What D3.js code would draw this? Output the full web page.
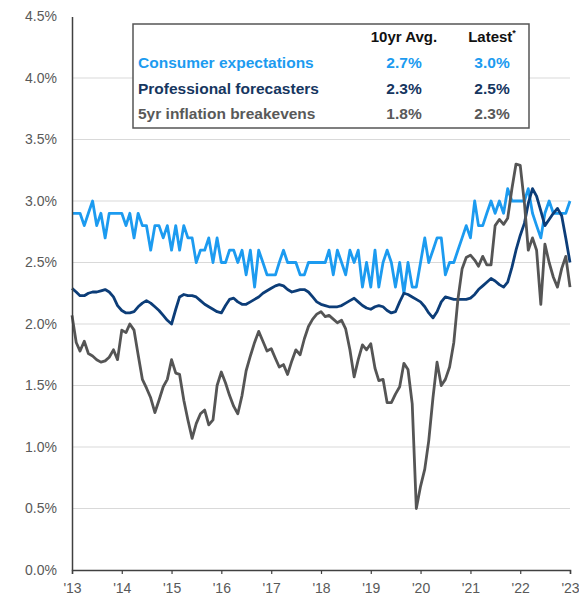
<!DOCTYPE html>
<html>
<head>
<meta charset="utf-8">
<script src="https://cdn.jsdelivr.net/npm/d3@7"></script>
<style>
  html, body { margin: 0; padding: 0; background: #fff; }
  svg { display: block; }
  text { font-family: "Liberation Sans", Arial, sans-serif; }
</style>
</head>
<body>
<svg id="chart" width="579" height="599"></svg>
<script>
// ---- Data (monthly, Jan 2013 .. Jan 2023) ----
const startDate = new Date(2013, 0, 1);

const consumer = [
  2.9,2.9,2.9,2.8,2.9,3.0,2.8,2.9,2.7,2.9,
  2.9,2.9,2.9,2.8,2.9,2.7,2.9,2.8,2.8,2.6,
  2.8,2.8,2.7,2.8,2.6,2.8,2.6,2.8,2.7,2.7,
  2.5,2.6,2.6,2.7,2.5,2.7,2.5,2.5,2.6,2.6,
  2.5,2.6,2.4,2.6,2.3,2.6,2.5,2.4,2.4,2.4,
  2.5,2.6,2.5,2.5,2.5,2.4,2.4,2.5,2.5,2.5,
  2.5,2.5,2.6,2.4,2.6,2.5,2.4,2.6,2.5,2.6,
  2.3,2.5,2.3,2.6,2.3,2.5,2.6,2.5,2.3,2.5,
  2.25,2.5,2.3,2.3,2.5,2.7,2.5,2.6,2.7,2.7,
  2.4,2.5,2.5,2.6,2.7,2.8,2.7,3.0,2.8,2.8,
  2.9,3.0,2.9,3.0,2.9,3.1,3.0,3.0,3.0,3.0,
  3.1,2.9,2.8,2.7,2.9,3.0,2.9,2.9,2.9,2.9,
  3.0
];

const professional = [
  2.29,2.26,2.23,2.23,2.25,2.26,2.26,2.27,2.28,2.26,
  2.22,2.15,2.11,2.09,2.09,2.10,2.14,2.17,2.19,2.17,
  2.14,2.11,2.07,2.03,2.00,2.12,2.22,2.24,2.23,2.23,
  2.22,2.19,2.16,2.14,2.12,2.10,2.09,2.15,2.20,2.21,
  2.18,2.16,2.16,2.18,2.20,2.22,2.25,2.27,2.29,2.31,
  2.32,2.31,2.28,2.26,2.27,2.28,2.28,2.26,2.22,2.18,
  2.16,2.15,2.14,2.14,2.14,2.15,2.17,2.19,2.21,2.18,
  2.15,2.13,2.12,2.14,2.15,2.14,2.11,2.09,2.10,2.18,
  2.25,2.24,2.22,2.20,2.18,2.14,2.09,2.05,2.10,2.18,
  2.22,2.21,2.20,2.20,2.20,2.20,2.21,2.24,2.28,2.31,
  2.34,2.37,2.35,2.32,2.30,2.34,2.46,2.60,2.72,2.82,
  2.98,3.10,3.04,2.92,2.80,2.85,2.90,2.94,2.88,2.70,
  2.50
];

const breakevens = [
  2.07,1.85,1.78,1.86,1.76,1.74,1.71,1.69,1.70,1.73,
  1.79,1.71,1.95,1.93,2.00,1.95,1.75,1.55,1.48,1.40,
  1.28,1.38,1.49,1.55,1.71,1.60,1.59,1.38,1.22,1.07,
  1.19,1.27,1.30,1.18,1.22,1.50,1.61,1.52,1.42,1.33,
  1.27,1.42,1.62,1.74,1.85,1.94,1.86,1.78,1.80,1.72,
  1.65,1.67,1.59,1.70,1.79,1.75,1.88,1.98,2.04,2.08,
  2.10,2.06,2.07,2.04,2.01,2.03,1.96,1.79,1.57,1.71,
  1.83,1.79,1.84,1.64,1.54,1.55,1.36,1.36,1.43,1.49,
  1.68,1.63,1.35,0.50,0.68,0.82,1.05,1.40,1.69,1.50,
  1.55,1.65,1.85,2.20,2.45,2.54,2.56,2.52,2.47,2.55,
  2.48,2.48,2.80,2.85,2.81,2.86,3.10,3.30,3.29,2.98,
  2.60,2.70,2.60,2.16,2.65,2.50,2.38,2.30,2.45,2.55,
  2.30
];

const yTicks = [0, 0.5, 1.0, 1.5, 2.0, 2.5, 3.0, 3.5, 4.0, 4.5];
const xTickYears = [2013,2014,2015,2016,2017,2018,2019,2020,2021,2022,2023];

const seriesNames = ["Consumer expectations", "Professional forecasters", "5yr inflation breakevens"];
const tenYrAvg = ["2.7%", "2.3%", "1.8%"];
const latest = ["3.0%", "2.5%", "2.3%"];
const seriesColors = ["#1c9bf0", "#0c3d78", "#555555"];
const textColors = ["#1c9bf0", "#16365f", "#595959"];

// ---- Chart ----
const svg = d3.select("#chart");
const x = d3.scaleTime()
  .domain([new Date(2013, 0, 1), new Date(2023, 0, 1)])
  .range([72, 570]);
const y = d3.scaleLinear().domain([0, 4.5]).range([570, 16.5]);

const dateOf = i => d3.timeMonth.offset(startDate, i);

// gridlines
svg.append("g").selectAll("line")
  .data(yTicks.filter(v => v > 0 && v < 4.5))
  .join("line")
  .attr("x1", 72).attr("x2", 570)
  .attr("y1", d => y(d)).attr("y2", d => y(d))
  .attr("stroke", "#d9d9d9").attr("stroke-width", 1);

// lines
const line = d3.line()
  .x((d, i) => x(dateOf(i)))
  .y(d => y(d));

[consumer, professional, breakevens].forEach((s, k) => {
  svg.append("path")
    .datum(s)
    .attr("fill", "none")
    .attr("stroke", seriesColors[k])
    .attr("stroke-width", 2.8)
    .attr("stroke-linejoin", "round")
    .attr("d", line);
});

// y axis
const yAxis = svg.append("g")
  .attr("transform", "translate(72,0)")
  .call(d3.axisLeft(y).tickValues(yTicks).tickSize(0).tickPadding(15)
    .tickFormat(d => d.toFixed(1) + "%"));
yAxis.select(".domain").attr("stroke", "#404040").attr("stroke-width", 1.5);
yAxis.selectAll("text").attr("font-size", 14).attr("fill", "#595959")
  .attr("font-family", "Liberation Sans, Arial, sans-serif");

// x axis
const xAxis = svg.append("g")
  .attr("transform", "translate(0,570)")
  .call(d3.axisBottom(x)
    .tickValues(xTickYears.map(yr => new Date(yr, 0, 1)))
    .tickSize(4).tickPadding(9)
    .tickFormat(d => "'" + String(d.getFullYear()).slice(2)));
xAxis.select(".domain").attr("stroke", "#404040").attr("stroke-width", 1.5);
xAxis.selectAll(".tick line").attr("stroke", "#404040").attr("stroke-width", 1.2);
xAxis.selectAll("text").attr("font-size", 14).attr("fill", "#595959")
  .attr("font-family", "Liberation Sans, Arial, sans-serif");

// legend table
const lg = svg.append("g");
lg.append("rect")
  .attr("x", 133).attr("y", 24).attr("width", 396).attr("height", 104)
  .attr("fill", "#fff").attr("stroke", "#555").attr("stroke-width", 1.5);

const colAvg = 404, colLatest = 492;
lg.append("text").attr("x", colAvg).attr("y", 42).attr("text-anchor", "middle")
  .attr("font-size", 15).attr("font-weight", "bold").attr("fill", "#111")
  .text("10yr Avg.");
const lt = lg.append("text").attr("x", colLatest).attr("y", 42).attr("text-anchor", "middle")
  .attr("font-size", 15).attr("font-weight", "bold").attr("fill", "#111");
lt.append("tspan").text("Latest");
lt.append("tspan").attr("font-size", 9).attr("dy", -6).text("*");

const rowY = [68, 94, 119];
seriesNames.forEach((name, k) => {
  lg.append("text").attr("x", 138).attr("y", rowY[k])
    .attr("font-size", 15.5).attr("font-weight", "bold").attr("fill", textColors[k])
    .text(name);
  lg.append("text").attr("x", colAvg).attr("y", rowY[k]).attr("text-anchor", "middle")
    .attr("font-size", 15.5).attr("font-weight", "bold").attr("fill", textColors[k])
    .text(tenYrAvg[k]);
  lg.append("text").attr("x", colLatest).attr("y", rowY[k]).attr("text-anchor", "middle")
    .attr("font-size", 15.5).attr("font-weight", "bold").attr("fill", textColors[k])
    .text(latest[k]);
});
</script>
</body>
</html>
